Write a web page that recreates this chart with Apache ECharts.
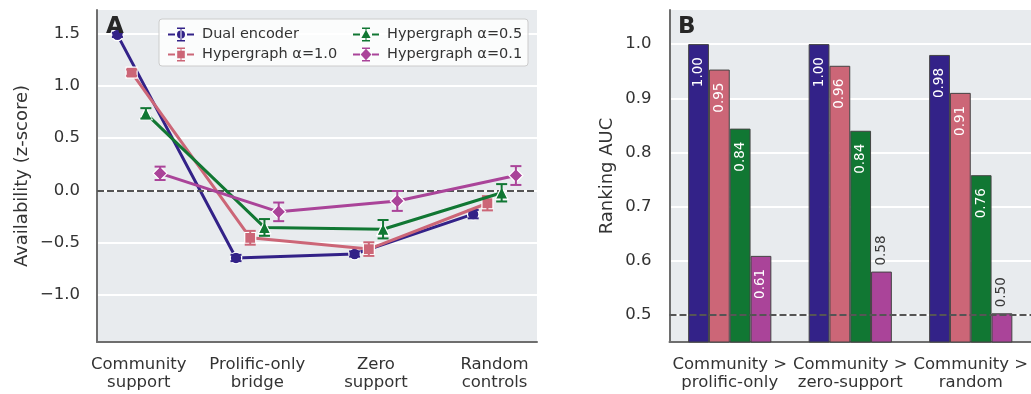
<!DOCTYPE html>
<html>
<head>
<meta charset="utf-8">
<script src="https://cdn.jsdelivr.net/npm/echarts@6/dist/echarts.min.js"></script>
<style>
  html, body { margin: 0; padding: 0; background: #ffffff; }
  #chart { width: 1031px; height: 394px; }
</style>
</head>
<body>
<div id="chart"></div>
<script>
// ---- Panel A: availability by group (mean z-score with error bars) ----
const groups = ['Community\nsupport', 'Prolific-only\nbridge', 'Zero\nsupport', 'Random\ncontrols'];
const modelNames = ['Dual encoder', 'Hypergraph α=1.0', 'Hypergraph α=0.5', 'Hypergraph α=0.1'];

const dualMean = [1.487, -0.645, -0.607, -0.226];
const dualErr  = [0.02, 0.03, 0.025, 0.04];
const h10Mean  = [1.126, -0.452, -0.560, -0.122];
const h10Err   = [0.03, 0.066, 0.065, 0.068];
const h05Mean  = [0.737, -0.353, -0.370, -0.022];
const h05Err   = [0.05, 0.08, 0.088, 0.083];
const h01Mean  = [0.164, -0.204, -0.100, 0.143];
const h01Err   = [0.064, 0.089, 0.095, 0.09];

const zTicks = [-1.0, -0.5, 0.0, 0.5, 1.0, 1.5];

// ---- Panel B: ranking AUC per contrast ----
const contrasts = ['Community >\nprolific-only', 'Community >\nzero-support', 'Community >\nrandom'];
const aucDual = [1.00, 1.00, 0.98];
const aucH10  = [0.953, 0.96, 0.91];
const aucH05  = [0.844, 0.84, 0.758];
const aucH01  = [0.609, 0.58, 0.503];

const aucTicks = [0.5, 0.6, 0.7, 0.8, 0.9, 1.0];

// ---- styling ----
const FONT = 'DejaVu Sans';
const TEXT = '#333333';
const PANEL_BG = '#E8EBEE';
const SPINE = '#6E6E6E';
const colors = ['#332288', '#CC6677', '#117733', '#AA4499'];
const symbols = ['circle', 'rect', 'triangle', 'diamond'];
const symbolSizes = [11.5, 11, 12.5, 14];
const dodge = [-0.18, -0.06, 0.06, 0.18];

const means = [dualMean, h10Mean, h05Mean, h01Mean];
const errs = [dualErr, h10Err, h05Err, h01Err];
const aucs = [aucDual, aucH10, aucH05, aucH01];

// legend handles: dashed stroke, error-bar caps and the marker shape
const stub = 'M0 6h7v2H0z M19 6h7v2h-7z M12.5 1h1v12h-1z M9 0h8v1.6H9z M9 12.4h8v1.6H9z ';
const legendIcons = [
  'path://' + stub + 'M9 7a4 4 0 1 0 8 0a4 4 0 1 0 -8 0z',
  'path://' + stub + 'M9.2 3.2h7.6v7.6H9.2z',
  'path://' + stub + 'M13 2.2L17.6 10.6H8.4z',
  'path://' + stub + 'M13 1.2L18.4 7L13 12.8L7.6 7z'
];

const fmtMinus = v => v.toFixed(1).replace('-', '\u2212');

function errorBarRenderer(color) {
  return function (params, api) {
    const x = api.value(0);
    const lo = api.coord([x, api.value(1)]);
    const hi = api.coord([x, api.value(2)]);
    const cw = 5.5;
    const st = { stroke: color, lineWidth: 2 };
    return {
      type: 'group',
      children: [
        { type: 'line', shape: { x1: hi[0], y1: hi[1], x2: lo[0], y2: lo[1] }, style: st },
        { type: 'line', shape: { x1: hi[0] - cw, y1: hi[1], x2: hi[0] + cw, y2: hi[1] }, style: st },
        { type: 'line', shape: { x1: lo[0] - cw, y1: lo[1], x2: lo[0] + cw, y2: lo[1] }, style: st }
      ]
    };
  };
}

const series = [];

// zero reference line in panel A
series.push({
  type: 'line', xAxisIndex: 0, yAxisIndex: 0, data: [], z: 1, silent: true,
  markLine: {
    silent: true, symbol: 'none', animation: false,
    label: { show: false },
    lineStyle: { color: '#555555', type: [7, 3], width: 1.8 },
    data: [{ yAxis: 0 }]
  }
});

means.forEach((m, g) => {
  series.push({
    type: 'line',
    name: modelNames[g],
    xAxisIndex: 0, yAxisIndex: 0,
    data: m.map((v, i) => [i + dodge[g], v]),
    symbol: symbols[g],
    symbolSize: symbolSizes[g],
    showSymbol: true,
    lineStyle: { color: colors[g], width: 3 },
    itemStyle: { color: colors[g], borderColor: '#ffffff', borderWidth: 1.2 },
    z: 3 + 2 * g,
    animation: false
  });
  series.push({
    type: 'custom',
    xAxisIndex: 0, yAxisIndex: 0,
    data: m.map((v, i) => [i + dodge[g], v - errs[g][i], v + errs[g][i]]),
    encode: { x: 0, y: [1, 2] },
    renderItem: errorBarRenderer(colors[g]),
    z: 4 + 2 * g,
    silent: true,
    animation: false
  });
});

// chance line in panel B
series.push({
  type: 'line', xAxisIndex: 1, yAxisIndex: 1, data: [], z: 1, silent: true,
  markLine: {
    silent: true, symbol: 'none', animation: false,
    label: { show: false },
    lineStyle: { color: '#555555', type: [7, 3], width: 1.8 },
    data: [{ yAxis: 0.5 }]
  }
});

const insideLabel = {
  show: true, position: 'insideTop', distance: 13, rotate: 90,
  align: 'right', verticalAlign: 'middle',
  color: '#ffffff', fontSize: 13.5, fontFamily: FONT
};
const outsideLabel = {
  show: true, position: 'top', distance: 6, rotate: 90,
  align: 'left', verticalAlign: 'middle',
  color: '#3a3a3a', fontSize: 13.5, fontFamily: FONT
};

aucs.forEach((vals, g) => {
  series.push({
    type: 'bar',
    name: modelNames[g],
    xAxisIndex: 1, yAxisIndex: 1,
    barWidth: 20.8,
    barGap: '0%',
    data: vals.map(v => ({ value: v, label: v >= 0.6 ? insideLabel : outsideLabel })),
    label: { formatter: p => p.value.toFixed(2) },
    itemStyle: { color: colors[g], borderColor: '#444444', borderWidth: 1 },
    z: 2,
    animation: false
  });
});

const axisLabelBase = { color: TEXT, fontFamily: FONT, fontSize: 16.5 };
const spine = { show: true, onZero: false, lineStyle: { color: SPINE, width: 2 } };

const option = {
  animation: false,
  textStyle: { fontFamily: FONT },
  grid: [
    { left: 97, top: 10, width: 440, height: 332, show: true, backgroundColor: PANEL_BG, borderWidth: 0 },
    { left: 669.5, top: 10, width: 363, height: 332, show: true, backgroundColor: PANEL_BG, borderWidth: 0 }
  ],
  xAxis: [
    {
      type: 'value', gridIndex: 0, min: -0.352, max: 3.358,
      axisLine: spine, axisTick: { show: false }, splitLine: { show: false },
      axisLabel: Object.assign({}, axisLabelBase, {
        customValues: groups.map((_, i) => i),
        formatter: v => groups[Math.round(v)],
        lineHeight: 18, margin: 14
      })
    },
    {
      type: 'category', gridIndex: 1, data: contrasts,
      axisLine: spine, axisTick: { show: false }, splitLine: { show: false },
      axisLabel: Object.assign({}, axisLabelBase, { lineHeight: 18, margin: 14, interval: 0 })
    }
  ],
  yAxis: [
    {
      type: 'value', gridIndex: 0, min: -1.448, max: 1.725,
      minInterval: 0.5, maxInterval: 0.5,
      axisLine: spine, axisTick: { show: false },
      splitLine: { show: true, showMinLine: false, showMaxLine: false, lineStyle: { color: '#ffffff', width: 1.8 } },
      axisLabel: Object.assign({}, axisLabelBase, { customValues: zTicks, formatter: fmtMinus, margin: 17 }),
      name: 'Availability (z-score)', nameLocation: 'middle', nameRotate: 90, nameGap: 66,
      nameTextStyle: { color: TEXT, fontFamily: FONT, fontSize: 18 }
    },
    {
      type: 'value', gridIndex: 1, min: 0.45, max: 1.063,
      minInterval: 0.1, maxInterval: 0.1,
      axisLine: spine, axisTick: { show: false },
      splitLine: { show: true, showMinLine: false, showMaxLine: false, lineStyle: { color: '#ffffff', width: 1.8 } },
      axisLabel: Object.assign({}, axisLabelBase, { customValues: aucTicks, formatter: v => v.toFixed(1), margin: 18 }),
      name: 'Ranking AUC', nameLocation: 'middle', nameRotate: 90, nameGap: 53,
      nameTextStyle: { color: TEXT, fontFamily: FONT, fontSize: 18 }
    }
  ],
  legend: [
    {
      data: [0, 1].map(g => ({ name: modelNames[g], icon: legendIcons[g] })),
      orient: 'vertical', left: 163, top: 22, itemWidth: 26, itemHeight: 14, itemGap: 5,
      itemStyle: { borderWidth: 0 },
      textStyle: { color: TEXT, fontFamily: FONT, fontSize: 14.5, padding: [0, 0, 0, 3] },
      selectedMode: false, z: 20
    },
    {
      data: [2, 3].map(g => ({ name: modelNames[g], icon: legendIcons[g] })),
      orient: 'vertical', left: 348, top: 22, itemWidth: 26, itemHeight: 14, itemGap: 5,
      itemStyle: { borderWidth: 0 },
      textStyle: { color: TEXT, fontFamily: FONT, fontSize: 14.5, padding: [0, 0, 0, 3] },
      selectedMode: false, z: 20
    }
  ],
  graphic: [
    {
      type: 'rect', z: 19, silent: true,
      shape: { x: 159, y: 19, width: 369, height: 47, r: 3 },
      style: { fill: 'rgba(255,255,255,0.82)', stroke: '#CCCCCC', lineWidth: 1 }
    },
    {
      type: 'text', z: 19, silent: true, left: 106, top: 16,
      style: { text: 'A', font: 'bold 23px "DejaVu Sans"', fill: '#262626' }
    },
    {
      type: 'text', z: 19, silent: true, left: 678, top: 16,
      style: { text: 'B', font: 'bold 23px "DejaVu Sans"', fill: '#262626' }
    }
  ],
  series: series
};

const chart = echarts.init(document.getElementById('chart'), null, { renderer: 'canvas' });
chart.setOption(option);
</script>
</body>
</html>
